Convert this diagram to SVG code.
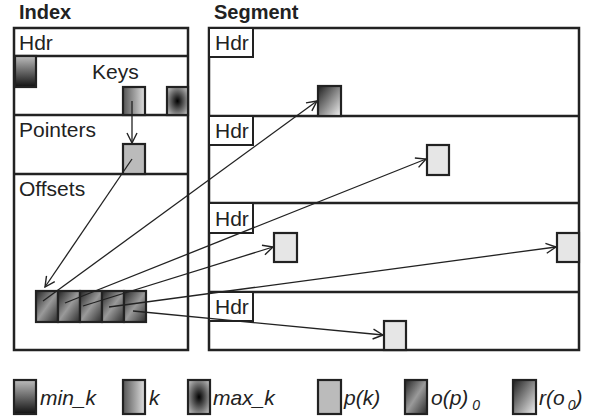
<svg xmlns="http://www.w3.org/2000/svg" width="597" height="416" viewBox="0 0 597 416">
<defs>
<linearGradient id="gMin" x1="0" y1="0" x2="0" y2="1"><stop offset="0" stop-color="#bdbdbd"/><stop offset="1" stop-color="#111"/></linearGradient>
<linearGradient id="gK" x1="0" y1="0" x2="1" y2="0"><stop offset="0" stop-color="#555"/><stop offset="1" stop-color="#e0e0e0"/></linearGradient>
<radialGradient id="gMax" cx="0.5" cy="0.5" r="0.6"><stop offset="0" stop-color="#000"/><stop offset="1" stop-color="#b0b0b0"/></radialGradient>
<linearGradient id="gO" x1="0" y1="0" x2="1" y2="1"><stop offset="0" stop-color="#222"/><stop offset="0.5" stop-color="#9a9a9a"/><stop offset="1" stop-color="#2a2a2a"/></linearGradient>
<linearGradient id="gR" x1="0" y1="0" x2="1" y2="1"><stop offset="0" stop-color="#1e1e1e"/><stop offset="1" stop-color="#f2f2f2"/></linearGradient>
<marker id="arr" markerUnits="userSpaceOnUse" markerWidth="12" markerHeight="12" refX="11" refY="6" orient="auto" viewBox="0 0 12 12">
<path d="M1,1 L11,6 L1,11" fill="none" stroke="#222" stroke-width="1.4"/>
</marker>
<style>
.t{font-family:"Liberation Sans",Arial,sans-serif;font-size:21px;fill:#222}
.b{font-weight:bold;font-size:20px}
.i{font-style:italic}
.box{fill:#fff;stroke:#222;stroke-width:2.5}
.div{stroke:#222;stroke-width:2.5}
.hdr{fill:#fff;stroke:#222;stroke-width:2}
.sq{stroke:#222;stroke-width:2.2}
.seg{fill:#e6e6e6}
.ln{stroke:#222;stroke-width:1.3;fill:none;marker-end:url(#arr)}
</style>
</defs>
<rect width="597" height="416" fill="#fff"/>

<g id="index">
<text class="t b" x="19" y="19">Index</text>
<rect class="box" x="14" y="28" width="174" height="322"/>
<line class="div" x1="14" y1="56" x2="188" y2="56"/>
<line class="div" x1="14" y1="115" x2="188" y2="115"/>
<line class="div" x1="14" y1="174" x2="188" y2="174"/>
<text class="t" x="19" y="50">Hdr</text>
</g>

<g id="keys">
<text class="t" x="92" y="79" font-size="20">Keys</text>
<rect class="sq" x="15" y="56" width="21" height="31" fill="url(#gMin)"/>
<rect class="sq" x="123" y="87" width="22" height="28" fill="url(#gK)"/>
<rect class="sq" x="167" y="87" width="21" height="28" fill="url(#gMax)"/>
</g>

<g id="pointers">
<text class="t" x="19" y="137">Pointers</text>
<rect class="sq" x="123" y="144" width="22" height="30" fill="#bbb"/>
</g>

<g id="offsets">
<text class="t" x="19" y="196">Offsets</text>
<rect class="sq" x="36" y="291" width="22" height="31" fill="url(#gO)"/>
<rect class="sq" x="58" y="291" width="22" height="31" fill="url(#gO)"/>
<rect class="sq" x="80" y="291" width="22" height="31" fill="url(#gO)"/>
<rect class="sq" x="102" y="291" width="22" height="31" fill="url(#gO)"/>
<rect class="sq" x="124" y="291" width="22" height="31" fill="url(#gO)"/>
</g>

<g id="segment">
<text class="t b" x="214" y="19">Segment</text>
<rect class="box" x="209" y="28" width="370" height="322"/>
<line class="div" x1="209" y1="116" x2="579" y2="116"/>
<line class="div" x1="209" y1="203" x2="579" y2="203"/>
<line class="div" x1="209" y1="292" x2="579" y2="292"/>
<rect class="hdr" x="209" y="28" width="44" height="29"/>
<rect class="hdr" x="209" y="116" width="44" height="29"/>
<rect class="hdr" x="209" y="203" width="44" height="30"/>
<rect class="hdr" x="209" y="292" width="44" height="29"/>
<text class="t" x="215" y="50">Hdr</text>
<text class="t" x="215" y="138">Hdr</text>
<text class="t" x="215" y="226">Hdr</text>
<text class="t" x="215" y="314">Hdr</text>
</g>

<g id="segment-records">
<rect class="sq" x="318" y="86" width="23" height="30" fill="url(#gR)"/>
<rect class="sq seg" x="427" y="145" width="22" height="30"/>
<rect class="sq seg" x="274" y="233" width="23" height="29"/>
<rect class="sq seg" x="557" y="233" width="22" height="29"/>
<rect class="sq seg" x="384" y="321" width="22" height="29"/>
</g>

<g id="connectors">
<line class="ln" x1="132" y1="101" x2="132" y2="143"/>
<line class="ln" x1="132" y1="159" x2="45" y2="287"/>
<line class="ln" x1="43" y1="301" x2="317" y2="101"/>
<line class="ln" x1="65" y1="303" x2="426" y2="159"/>
<line class="ln" x1="83" y1="306" x2="273" y2="247"/>
<line class="ln" x1="109" y1="307" x2="556" y2="247"/>
<line class="ln" x1="133" y1="311" x2="383" y2="335"/>
</g>

<g id="legend">
<rect class="sq" x="14" y="380" width="22" height="34" fill="url(#gMin)"/>
<text class="t i" x="40" y="405">min_k</text>
<rect class="sq" x="123" y="380" width="22" height="34" fill="url(#gK)"/>
<text class="t i" x="149" y="405">k</text>
<rect class="sq" x="188" y="380" width="22" height="34" fill="url(#gMax)"/>
<text class="t i" x="213" y="405">max_k</text>
<rect class="sq" x="318" y="380" width="23" height="34" fill="#bbb"/>
<text class="t i" x="344" y="405">p(k)</text>
<rect class="sq" x="405" y="380" width="22" height="34" fill="url(#gO)"/>
<text class="t i" x="431" y="405">o(p)<tspan font-size="14" dx="4" dy="5">0</tspan></text>
<rect class="sq" x="513" y="380" width="23" height="34" fill="url(#gR)"/>
<text class="t i" x="539" y="405">r(o<tspan font-size="14" dx="3" dy="5">0</tspan><tspan dy="-5">)</tspan></text>
</g>
</svg>
